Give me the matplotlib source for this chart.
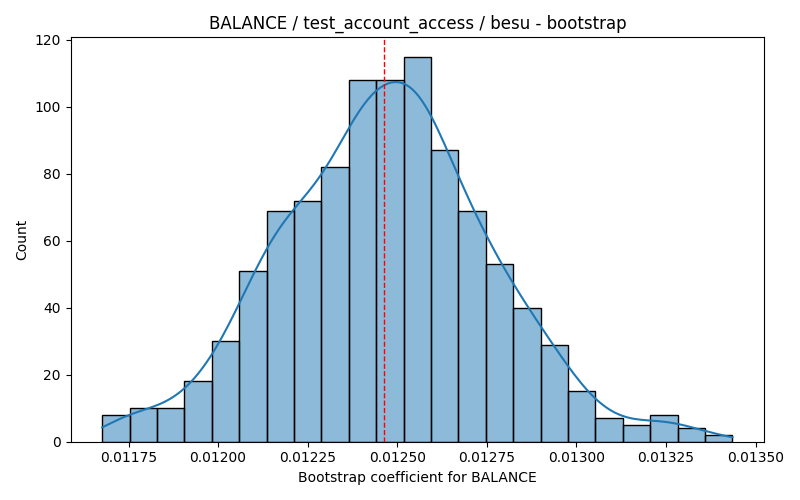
import matplotlib
matplotlib.use("Agg")
import matplotlib.pyplot as plt
import numpy as np

# histogram of 1000 bootstrap coefficients
bin_start = 0.0116764
bin_width = 0.00007648
counts = [8, 10, 10, 18, 30, 51, 69, 72, 82, 108, 108, 115,
          87, 69, 53, 40, 29, 15, 7, 5, 8, 4, 2]
point_estimate = 0.012463

title = "BALANCE / test_account_access / besu - bootstrap"
xlabel = "Bootstrap coefficient for BALANCE"
ylabel = "Count"

counts = np.array(counts, dtype=float)
edges = bin_start + bin_width * np.arange(len(counts) + 1)
centers = (edges[:-1] + edges[1:]) / 2

# weighted gaussian KDE (scott's rule), scaled to counts like seaborn does
n = counts.sum()
mean = np.sum(counts * centers) / n
std = np.sqrt(np.sum(counts * (centers - mean) ** 2) / n)
bw = std * n ** (-1 / 5)
grid = np.linspace(edges[0], edges[-1], 200)
dens = (counts[None, :] * np.exp(-0.5 * ((grid[:, None] - centers[None, :]) / bw) ** 2)).sum(axis=1)
dens = dens / (n * bw * np.sqrt(2 * np.pi))
kde_counts = dens * n * bin_width

fig, ax = plt.subplots(figsize=(8, 5), dpi=100)
ax.bar(edges[:-1], counts, width=bin_width, align="edge",
       facecolor=(0.122, 0.467, 0.706, 0.5), edgecolor="black", linewidth=1)
ax.plot(grid, kde_counts, color="#1f77b4", linewidth=1.5)
ax.axvline(point_estimate, color="red", linestyle="--", linewidth=1)

ax.set_title(title)
ax.set_xlabel(xlabel)
ax.set_ylabel(ylabel)
plt.tight_layout()
plt.savefig("out.png")
